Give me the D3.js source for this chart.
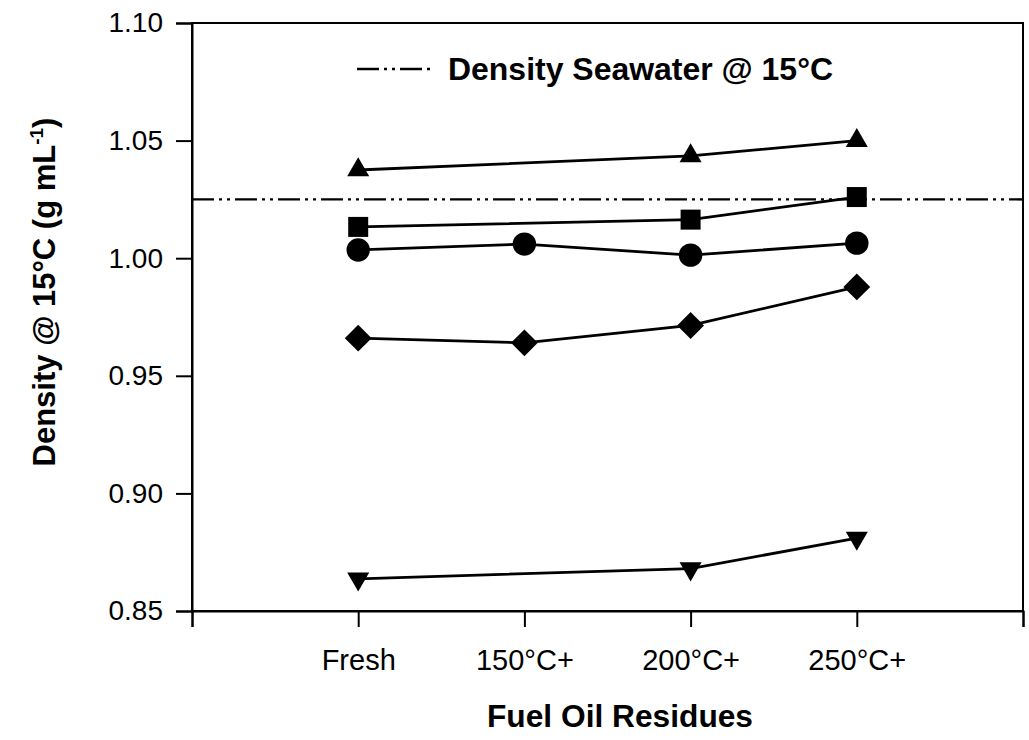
<!DOCTYPE html>
<html><head><meta charset="utf-8">
<script src="https://cdn.jsdelivr.net/npm/d3@7/dist/d3.min.js"></script>
<style>
html,body{margin:0;padding:0;background:#fff;}
svg{display:block;}
text{font-family:"Liberation Sans",Arial,sans-serif;fill:#000;}
</style></head>
<body>
<svg id="chart" width="1029" height="740"></svg>
<script>
// ---- data ----
const categories = ["Fresh", "150°C+", "200°C+", "250°C+"];
const yTicks = [0.85, 0.90, 0.95, 1.00, 1.05, 1.10];
const seawaterDensity = 1.025;
const seriesTriangleUp = [1.0375, null, 1.0435, 1.050];
const seriesSquare = [1.0133, null, 1.0164, 1.026];
const seriesCircle = [1.0035, 1.006, 1.0013, 1.0064];
const seriesDiamond = [0.966, 0.964, 0.9714, 0.9878];
const seriesTriangleDown = [0.8637, null, 0.868, 0.881];
const legendLabel = "Density Seawater @ 15°C";
const xTitle = "Fuel Oil Residues";

// ---- layout ----
const svg = d3.select("#chart");
const L = 192, R = 1023, T = 23, B = 611;
const x = d3.scaleLinear().domain([0, categories.length + 1]).range([L, R]);
const y = d3.scaleLinear().domain([0.85, 1.10]).range([B, T]);

// box
svg.append("rect").attr("x", L).attr("y", T).attr("width", R - L).attr("height", B - T)
  .attr("fill", "none").attr("stroke", "#000").attr("stroke-width", 2);

// y axis
const yAxis = d3.axisLeft(y).tickValues(yTicks).tickFormat(d3.format(".2f")).tickSize(16).tickPadding(13);
const gy = svg.append("g").attr("transform", `translate(${L},0)`).call(yAxis);
gy.select(".domain").attr("stroke-width", 2);
gy.selectAll(".tick line").attr("stroke-width", 2);
gy.selectAll(".tick text").attr("font-size", 28).attr("font-family", '"Liberation Sans",Arial,sans-serif');

// x axis
const xAxis = d3.axisBottom(x).tickValues(d3.range(0, categories.length + 2)).tickSize(16)
  .tickFormat(d => (d >= 1 && d <= categories.length) ? categories[d - 1] : "").tickPadding(22);
const gx = svg.append("g").attr("transform", `translate(0,${B})`).call(xAxis);
gx.select(".domain").attr("stroke-width", 2);
gx.selectAll(".tick line").attr("stroke-width", 2);
gx.selectAll(".tick text").attr("font-size", 29).attr("font-family", '"Liberation Sans",Arial,sans-serif');

// titles
svg.append("text").attr("x", 620).attr("y", 727).attr("text-anchor", "middle")
  .attr("font-size", 31).attr("font-weight", "bold")
  .attr("textLength", 266).attr("lengthAdjust", "spacingAndGlyphs").text(xTitle);
const yt = svg.append("text").attr("transform", "translate(55,292) rotate(-90)")
  .attr("text-anchor", "middle").attr("font-size", 31).attr("font-weight", "bold");
yt.append("tspan").text("Density @ 15°C (g mL");
yt.append("tspan").attr("font-size", 19).attr("dy", -12).text("-1");
yt.append("tspan").attr("dy", 12).text(")");

// seawater line
const dash = "22,5,3,5,3,5";
svg.append("line").attr("x1", L).attr("x2", R).attr("y1", y(seawaterDensity)).attr("y2", y(seawaterDensity))
  .attr("stroke", "#000").attr("stroke-width", 2.4).attr("stroke-dasharray", dash);

// legend
svg.append("line").attr("x1", 357).attr("x2", 431).attr("y1", 69).attr("y2", 69)
  .attr("stroke", "#000").attr("stroke-width", 2.4).attr("stroke-dasharray", dash);
svg.append("text").attr("x", 448).attr("y", 80).attr("font-size", 31).attr("font-weight", "bold")
  .attr("textLength", 385).attr("lengthAdjust", "spacingAndGlyphs").text(legendLabel);

// series
const series = [
  {vals: seriesTriangleUp, sym: d3.symbolTriangle, size: 210, rot: 0},
  {vals: seriesSquare, sym: d3.symbolSquare, size: 400, rot: 0},
  {vals: seriesCircle, sym: d3.symbolCircle, size: 430, rot: 0},
  {vals: seriesDiamond, sym: d3.symbolSquare, size: 360, rot: 45},
  {vals: seriesTriangleDown, sym: d3.symbolTriangle, size: 210, rot: 180},
];
const line = d3.line().x(d => x(d.i + 1)).y(d => y(d.v));
series.forEach(s => {
  const pts = s.vals.map((v, i) => ({v, i})).filter(d => d.v != null);
  svg.append("path").attr("d", line(pts)).attr("fill", "none").attr("stroke", "#000").attr("stroke-width", 2.8);
  svg.selectAll(null).data(pts).enter().append("path")
    .attr("d", d3.symbol().type(s.sym).size(s.size))
    .attr("transform", d => `translate(${x(d.i + 1)},${y(d.v)}) rotate(${s.rot})`)
    .attr("fill", "#000");
});
</script>
</body></html>
